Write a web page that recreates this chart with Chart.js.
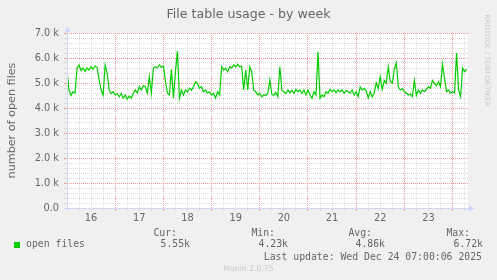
<!DOCTYPE html>
<html>
<head>
<meta charset="utf-8">
<script src="https://cdn.jsdelivr.net/npm/chart.js@4.4.1/dist/chart.umd.min.js"></script>
<style>
  html, body { margin: 0; padding: 0; background: #f0f0f0; }
  #wrap { position: relative; width: 497px; height: 280px; overflow: hidden; }
  #chart { position: absolute; left: 0; top: 0; }
  .txt { position: absolute; white-space: pre; color: #666; line-height: 12px;
         font-family: "DejaVu Sans Mono", monospace; font-size: 9.8px; }
  .r { text-align: right; }
  #title { left: 0; width: 497px; top: 6px; text-align: center; line-height: 15px;
           font-family: "DejaVu Sans", sans-serif; font-size: 12.6px; }
  #watermark { font-family: "DejaVu Sans", sans-serif; font-size: 7.2px; color: #c8c8c8;
               left: 440px; width: 95px; top: 56px; text-align: center; line-height: 9px;
               transform: rotate(90deg); transform-origin: 47.5px 4.5px; }
  #munin { left: 0; width: 497px; text-align: center; top: 264px; line-height: 10px;
           font-family: "DejaVu Sans", sans-serif; font-size: 7.7px; color: #c8c8c8; }
  #swatch { position: absolute; left: 14px; top: 242px; width: 6px; height: 6px; background: #00cc00; }
</style>
</head>
<body>
<div id="wrap">
  <canvas id="chart" width="497" height="280"></canvas>
  <div class="txt" id="title"></div>
  <div class="txt" id="watermark">RRDTOOL / TOBI OETIKER</div>
  <div id="swatch"></div>
  <div id="legend"></div>
  <div class="txt" id="munin">Munin 2.0.75</div>
</div>
<script>
// hourly samples (open files), starting Dec 16 00:00
const day16 = [5500,4720,4500,4650,4600,5600,5720,5500,5600,5470,5600,5520,5650,5550,5680,5630,5120,4720,4520,5720,5400,4720,4580,4650];
const day17 = [4520,4580,4450,4580,4390,4520,4350,4480,4390,4580,4720,4600,4850,4720,4900,4850,4590,5250,4590,5600,5650,5600,5720,5630];
const day18 = [5680,5100,4590,4520,5550,4400,5450,6280,4390,4720,4520,4720,4650,4790,4720,4850,5050,4990,4790,4850,4650,4720,4590,4650];
const day19 = [4520,4590,4390,4650,4520,5650,5520,5590,5450,5650,5590,5720,5650,5750,5650,5680,4720,5520,4720,5650,5450,4720,4650,4520];
const day20 = [4590,4450,4520,4500,4590,5120,4550,4500,4620,4450,5650,4700,4650,4580,4720,4620,4700,4590,4750,4650,4720,4590,4720,4520];
const day21 = [4720,4520,4390,4650,4520,6250,4390,4520,4450,4650,4590,4750,4650,4720,4620,4720,4650,4720,4590,4700,4650,4590,4720,4520];
const day22 = [4650,4450,4850,4720,4790,4700,4400,4650,4450,4600,5000,4780,5250,4750,5100,4990,5650,5050,4990,5550,5800,4850,4720,4780];
const day23 = [4650,4600,4520,4560,4450,5100,4500,4720,4590,4720,4650,4750,4850,4790,5100,4990,4900,5050,4850,5750,5200,4650,4720,4590];
const day24 = [4650,4600,6200,4720,4450,5600,5450,5550];

const dayLabels = ['16','17','18','19','20','21','22','23'];
const statHeads = ['Cur:','Min:','Avg:','Max:'];
const statValues = ['5.55k','4.23k','4.86k','6.72k'];
const seriesName = 'open files';
const lastUpdate = 'Last update: Wed Dec 24 07:00:06 2025';

const openFiles = [].concat(day16, day17, day18, day19, day20, day21, day22, day23, day24);
const points = openFiles.map((v, i) => ({ x: i, y: v }));

// legend rows below the graph
const headRight = [177, 275, 372, 470];
const valRight = [190, 288, 385, 483];
let leg = '<div class="txt" style="left:26px;top:238px">' + seriesName + '</div>';
statHeads.forEach((h, i) => {
  leg += '<div class="txt r" style="right:' + (497 - headRight[i]) + 'px;top:227px">' + h + '</div>';
  leg += '<div class="txt r" style="right:' + (497 - valRight[i]) + 'px;top:238px">' + statValues[i] + '</div>';
});
leg += '<div class="txt r" style="right:15px;top:251px">' + lastUpdate + '</div>';
document.getElementById('legend').innerHTML = leg;
document.getElementById('title').textContent = 'File table usage - by week';

const MAJOR = '#f29494';
const MINOR = '#dadada';
const AXIS = '#cfd6f8';

// canvas bg + axes with arrows, munin style
const munin = {
  id: 'munin',
  beforeDraw(chart) {
    const { ctx, chartArea: a } = chart;
    ctx.save();
    ctx.fillStyle = '#ffffff';
    ctx.fillRect(a.left, a.top, a.right - a.left, a.bottom - a.top);
    ctx.restore();
  },
  afterDraw(chart) {
    const { ctx, chartArea: a } = chart;
    const x0 = Math.round(a.left) + 0.5, y0 = Math.round(a.bottom) + 0.5;
    ctx.save();
    ctx.strokeStyle = AXIS;
    ctx.fillStyle = AXIS;
    ctx.lineWidth = 1;
    ctx.beginPath();
    ctx.moveTo(a.left - 3, y0); ctx.lineTo(a.right + 2, y0);
    ctx.moveTo(x0, a.bottom + 3); ctx.lineTo(x0, a.top - 2);
    ctx.stroke();
    ctx.beginPath();
    ctx.moveTo(a.right + 1, y0 - 3); ctx.lineTo(a.right + 7, y0); ctx.lineTo(a.right + 1, y0 + 3);
    ctx.closePath(); ctx.fill();
    ctx.beginPath();
    ctx.moveTo(x0 - 3, a.top - 1); ctx.lineTo(x0, a.top - 7); ctx.lineTo(x0 + 3, a.top - 1);
    ctx.closePath(); ctx.fill();
    ctx.restore();
  }
};

new Chart(document.getElementById('chart'), {
  type: 'line',
  data: {
    datasets: [{
      label: seriesName,
      data: points,
      borderColor: '#00cc00',
      borderWidth: 1.2,
      pointRadius: 0,
      tension: 0,
      fill: false
    }]
  },
  options: {
    responsive: false,
    animation: false,
    events: [],
    layout: { padding: { top: 33, right: 29, left: 0, bottom: 0 } },
    plugins: { legend: { display: false }, tooltip: { enabled: false }, title: { display: false } },
    scales: {
      x: {
        type: 'linear',
        min: 0,
        max: 199.7,
        afterFit: (s) => { s.height = 72; },
        afterBuildTicks: (s) => {
          const t = [];
          for (let h = 6; h < 199.7; h += 6) t.push({ value: h });
          s.ticks = t;
        },
        border: { display: false, dash: [1, 1] },
        grid: {
          color: (c) => (c.tick.value % 24 === 0 ? MAJOR : MINOR),
          tickColor: (c) => (c.tick.value % 24 === 0 ? MAJOR : MINOR),
          tickLength: 3,
          lineWidth: 1
        },
        ticks: {
          autoSkip: false,
          maxRotation: 0,
          padding: 2,
          color: '#666',
          font: { family: 'DejaVu Sans', size: 9.8 },
          callback: (v) => (v % 24 === 12 ? dayLabels[(v - 12) / 24] : '')
        }
      },
      y: {
        min: 0,
        max: 7000,
        afterFit: (s) => { s.width = 67; },
        afterBuildTicks: (s) => {
          const t = [];
          for (let v = 0; v <= 7000; v += 200) t.push({ value: v });
          s.ticks = t;
        },
        border: { display: false, dash: [1, 1] },
        grid: {
          color: (c) => (c.tick.value % 1000 === 0 ? MAJOR : MINOR),
          tickColor: (c) => (c.tick.value % 1000 === 0 ? MAJOR : MINOR),
          tickLength: 3,
          lineWidth: 1
        },
        title: {
          display: true,
          text: 'number of open files',
          color: '#666',
          padding: { top: 5, bottom: 0 },
          font: { family: 'DejaVu Sans', size: 11.2 }
        },
        ticks: {
          autoSkip: false,
          padding: 5,
          color: '#666',
          font: { family: 'DejaVu Sans', size: 9.8 },
          callback: (v) => (v % 1000 !== 0 ? '' : v === 0 ? '0.0' : (v / 1000).toFixed(1) + ' k')
        }
      }
    }
  },
  plugins: [munin]
});
</script>
</body>
</html>
